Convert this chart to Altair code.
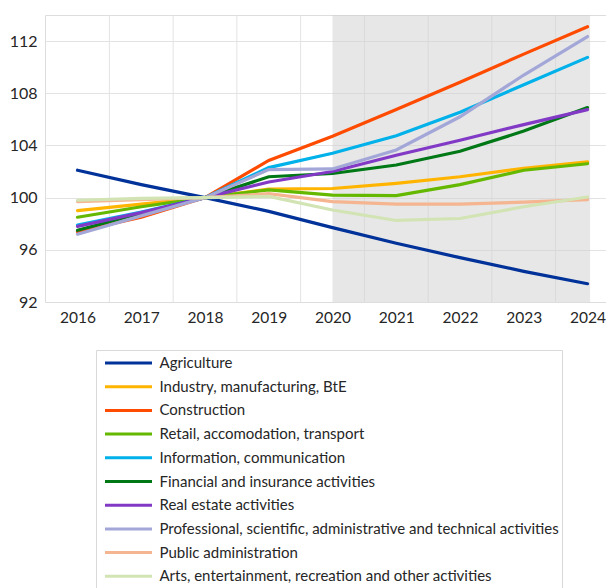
import altair as alt
import pandas as pd

years = [2016, 2017, 2018, 2019, 2020, 2021, 2022, 2023, 2024]

series_names = [
    "Agriculture",
    "Industry, manufacturing, BtE",
    "Construction",
    "Retail, accomodation, transport",
    "Information, communication",
    "Financial and insurance activities",
    "Real estate activities",
    "Professional, scientific, administrative and technical activities",
    "Public administration",
    " Arts, entertainment, recreation and other activities",
]

colors = ["#003299", "#FFB400", "#FF4B00", "#65B800", "#00B1EA",
          "#007816", "#8139C6", "#A2A7D8", "#F5B590", "#D2E4B4"]

agriculture  = [102.1, 101.0, 100.0,  98.95, 97.7, 96.5, 95.4, 94.35, 93.4]
industry     = [99.0,  99.5, 100.0, 100.65, 100.7, 101.1, 101.6, 102.25, 102.75]
construction = [97.4,  98.5, 100.0, 102.85, 104.7, 106.75, 108.85, 111.0, 113.1]
retail       = [98.5,  99.3, 100.0, 100.6, 100.2, 100.15, 101.0, 102.1, 102.6]
information  = [97.9,  98.9, 100.0, 102.3, 103.4, 104.75, 106.55, 108.65, 110.75]
financial    = [97.5,  98.8, 100.0, 101.6, 101.85, 102.5, 103.55, 105.1, 106.9]
real_estate  = [97.8,  98.85, 100.0, 101.2, 102.0, 103.25, 104.4, 105.6, 106.75]
professional = [97.2,  98.6, 100.0, 102.15, 102.2, 103.65, 106.2, 109.4, 112.35]
public_admin = [99.7,  99.85, 100.0, 100.3, 99.7, 99.5, 99.5, 99.65, 99.85]
arts         = [99.8,  99.95, 100.0, 100.1, 99.05, 98.25, 98.4, 99.3, 100.05]

all_values = [agriculture, industry, construction, retail, information,
              financial, real_estate, professional, public_admin, arts]

y_ticks = [92, 96, 100, 104, 108, 112]
shade_start, shade_end = 2020, 2024
band_edges = [y + 0.5 for y in years[:-1]]

rows = []
for order, (name, vals) in enumerate(zip(series_names, all_values)):
    for yr, v in zip(years, vals):
        rows.append({"year": yr, "value": v, "series": name, "order": order})
df = pd.DataFrame(rows)

x_scale = alt.Scale(domain=[2015.49, 2024.29], nice=False, zero=False)
y_scale = alt.Scale(domain=[92, 114], nice=False, zero=False)

FONT = "Lato"
TXT = "#262626"

shade = alt.Chart(pd.DataFrame({"x0": [shade_start], "x1": [2024.04]})).mark_rect(
    color="#cfcfcf", opacity=0.5
).encode(
    x=alt.X("x0:Q", scale=x_scale),
    x2="x1:Q",
    y=alt.value(0),
    y2=alt.value(287),
)

vgrid = alt.Chart(pd.DataFrame({"edge": band_edges})).mark_rule(
    color="#e3e3e3", strokeWidth=1
).encode(
    x=alt.X("edge:Q", scale=x_scale),
    y=alt.value(0),
    y2=alt.value(287),
)

lines = alt.Chart(df).mark_line(strokeWidth=3.2, strokeCap="round").encode(
    x=alt.X("year:Q", scale=x_scale,
            axis=alt.Axis(values=years, format="d", title=None, grid=False,
                          ticks=False, domain=False, labelFont=FONT,
                          labelFontSize=15.5, labelColor=TXT, labelPadding=8)),
    y=alt.Y("value:Q", scale=y_scale,
            axis=alt.Axis(values=y_ticks, title=None, ticks=False, domain=False,
                          grid=True, gridColor="#e3e3e3",
                          gridOpacity=alt.expr("datum.value == 92 ? 0 : 1"),
                          labelFont=FONT, labelFontSize=16, labelColor=TXT,
                          labelPadding=8)),
    color=alt.Color("series:N",
                    scale=alt.Scale(domain=series_names, range=colors),
                    sort=series_names,
                    legend=alt.Legend(
                        title=None, orient="none", legendX=51, legendY=335,
                        direction="vertical", columns=1,
                        symbolType="stroke", symbolSize=2209,
                        symbolStrokeWidth=3, symbolOffset=4.5,
                        clipHeight=20, rowPadding=3.7,
                        labelFont=FONT, labelFontSize=15, labelColor=TXT,
                        labelLimit=600, labelOffset=6,
                        strokeColor="#d9d9d9", padding=3,
                        fillColor="white")),
    order=alt.Order("order:Q"),
    detail="series:N",
)

chart = alt.layer(vgrid, shade, lines).properties(
    width=561, height=287,
    autosize=alt.AutoSizeParams(type="none"),
    padding={"left": 37, "top": 7, "right": 0, "bottom": 286},
).configure_view(stroke=None).configure(background="white")

chart.save("out.html", embed_options={"renderer": "svg", "actions": False})
